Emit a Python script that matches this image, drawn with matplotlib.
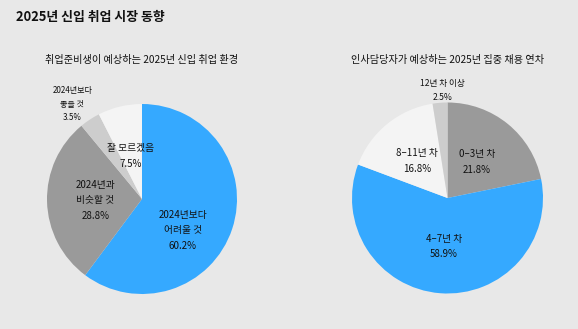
import numpy as np
import matplotlib
matplotlib.use("Agg")
from matplotlib import pyplot as plt

plt.rcParams['font.family'] = ['Noto Sans CJK KR', 'DejaVu Sans']

title = '2025년 신입 취업 시장 동향'

# left pie
left_title = '취업준비생이 예상하는 2025년 신입 취업 환경'
left_labels = ['2024년보다\n어려울 것', '2024년과\n비슷할 것', '2024년보다\n좋을 것', '잘 모르겠음']
left_values = [60.2, 28.8, 3.5, 7.5]

# right pie
right_title = '인사담당자가 예상하는 2025년 집중 채용 연차'
right_labels = ['0–3년 차', '4–7년 차', '8–11년 차', '12년 차 이상']
right_values = [21.8, 58.9, 16.8, 2.5]

BLUE = '#35a9ff'
DARK = '#9a9a9a'
LIGHT = '#cdcdcd'
WHITE = '#f4f4f4'
BG = '#e8e8e8'

left_colors = [BLUE, DARK, LIGHT, WHITE]
right_colors = [DARK, BLUE, WHITE, LIGHT]

# label placement (distance from centre, angle shift in degrees, font size)
left_pos = [(0.54, -19, 7), (0.49, 0, 7), (1.24, 3, 5.8), (0.47, 1, 7)]
right_pos = [(0.49, 0, 7), (0.51, 0, 7), (0.50, 0, 7), (1.13, -2, 6.2)]

W, H = 578, 329
fig = plt.figure(figsize=(W / 100, H / 100), dpi=100, facecolor=BG)

fig.text(16 / W, 1 - 17 / H, title, fontsize=9.3, fontweight='bold',
         color='#111111', va='center', ha='left')


def draw_pie(cx, cy, r, values, labels, colors, pos, sub):
    ax = fig.add_axes([(cx - r) / W, 1 - (cy + r) / H, 2 * r / W, 2 * r / H])
    ax.set_facecolor(BG)
    wedges, _ = ax.pie(values, colors=colors, startangle=90, counterclock=False,
                       wedgeprops=dict(linewidth=0))
    for w, lab, v, (d, shift, fs) in zip(wedges, labels, values, pos):
        ang = np.deg2rad((w.theta1 + w.theta2) / 2 + shift)
        ax.text(d * np.cos(ang), d * np.sin(ang), f'{lab}\n{v}%',
                ha='center', va='center', fontsize=fs, color='#111111',
                fontweight='medium', linespacing=1.7)
    ax.set_xlim(-1, 1)
    ax.set_ylim(-1, 1)
    ax.set_aspect('equal')
    ax.axis('off')
    fig.text(cx / W, 1 - 60 / H, sub, fontsize=7.3, ha='center', va='center',
             color='#111111', fontweight='medium')


draw_pie(142, 199, 95, left_values, left_labels, left_colors, left_pos, left_title)
draw_pie(447.5, 198, 95.5, right_values, right_labels, right_colors, right_pos, right_title)

fig.savefig('out.png', dpi=100, facecolor=BG)
